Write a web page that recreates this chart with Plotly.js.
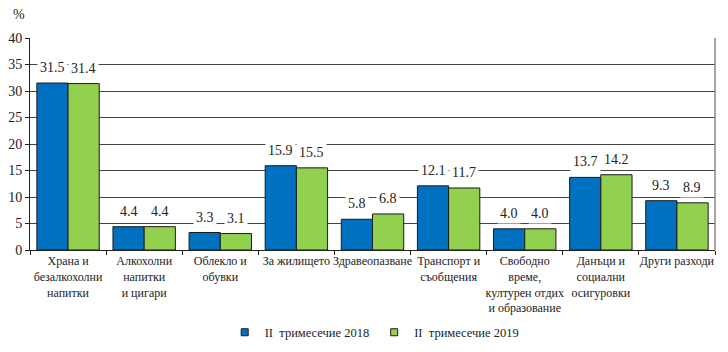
<!DOCTYPE html>
<html>
<head>
<meta charset="utf-8">
<script src="https://cdn.plot.ly/plotly-3.0.1.min.js"></script>
<style>html,body{margin:0;padding:0;background:#fff;}#chart{width:728px;height:352px;}</style>
</head>
<body>
<div id="chart"></div>
<script>
const categories = [
  "Храна и<br>безалкохолни<br>напитки",
  "Алкохолни<br>напитки<br>и цигари",
  "Облекло и<br>обувки",
  "За жилището",
  "Здравеопазване",
  "Транспорт и<br>съобщения",
  "Свободно<br>време,<br>културен отдих<br>и образование",
  "Данъци и<br>социални<br>осигуровки",
  "Други разходи"
];
const series2018 = [31.5, 4.4, 3.3, 15.9, 5.8, 12.1, 4.0, 13.7, 9.3];
const series2019 = [31.4, 4.4, 3.1, 15.5, 6.8, 11.7, 4.0, 14.2, 8.9];
const seriesNames = ["II\u00a0\u00a0тримесечие 2018", "II\u00a0\u00a0тримесечие 2019"];
const seriesColors = ["#0070C0", "#92D050"];
const yTicks = [0, 5, 10, 15, 20, 25, 30, 35, 40];

const FONT = "'Liberation Serif', serif";

const traces = [
  {type: "bar", name: seriesNames[0], x: categories, y: series2018, showlegend: false,
   marker: {color: seriesColors[0], line: {color: "#1a1a1a", width: 1}}},
  {type: "bar", name: seriesNames[1], x: categories, y: series2019, showlegend: false,
   marker: {color: seriesColors[1], line: {color: "#1a1a1a", width: 1}}},
  {type: "scatter", mode: "markers", name: seriesNames[0], x: [null], y: [null],
   marker: {symbol: "square", size: 7, color: seriesColors[0], line: {color: "#1a1a1a", width: 1}}},
  {type: "scatter", mode: "markers", name: seriesNames[1], x: [null], y: [null],
   marker: {symbol: "square", size: 7, color: seriesColors[1], line: {color: "#1a1a1a", width: 1}}}
];

const annotations = [];
[series2018, series2019].forEach((s, si) => {
  s.forEach((v, i) => {
    annotations.push({
      x: categories[i], y: v, xref: "x", yref: "y",
      text: v.toFixed(1), showarrow: false,
      xshift: si === 0 ? -15.5 : 15.5, yshift: 5, yanchor: "bottom",
      bgcolor: "#ffffff", borderpad: 2,
      font: {family: FONT, size: 14, color: "#222"}
    });
  });
});
annotations.push({
  x: -0.005, y: 1, xref: "paper", yref: "paper", xanchor: "right", yanchor: "bottom",
  yshift: 14, text: "%", showarrow: false, font: {family: FONT, size: 14, color: "#222"}
});

const layout = {
  width: 728, height: 352,
  margin: {l: 30, r: 13, t: 38, b: 102},
  paper_bgcolor: "#fff", plot_bgcolor: "#fff",
  barmode: "group", bargap: 0.18, bargroupgap: 0,
  font: {family: FONT, size: 13, color: "#222"},
  showlegend: true,
  legend: {orientation: "h", x: 0.514, xanchor: "center", xref: "container",
           y: 0.055, yanchor: "middle", yref: "container",
           font: {family: FONT, size: 12.5, color: "#222"}, itemwidth: 30, traceorder: "normal"},
  xaxis: {type: "category", tickson: "boundaries", ticks: "outside", ticklen: 4,
          tickcolor: "#222", showline: true, linecolor: "#222", linewidth: 1,
          showgrid: false, tickfont: {family: FONT, size: 12, color: "#222"}, tickangle: 0,
          automargin: false},
  yaxis: {range: [0, 40], tickvals: yTicks, ticks: "outside", ticklen: 4, tickcolor: "#222",
          showline: true, linecolor: "#222", linewidth: 1,
          showgrid: true, gridcolor: "#444", gridwidth: 1, zeroline: false,
          tickfont: {family: FONT, size: 14, color: "#222"}, automargin: false},
  shapes: [{type: "line", xref: "paper", yref: "paper", x0: 1, x1: 1, y0: 0, y1: 1,
            line: {color: "#888", width: 1.5}}],
  annotations: annotations
};

Plotly.newPlot("chart", traces, layout, {displayModeBar: false, staticPlot: true});
</script>
</body>
</html>
